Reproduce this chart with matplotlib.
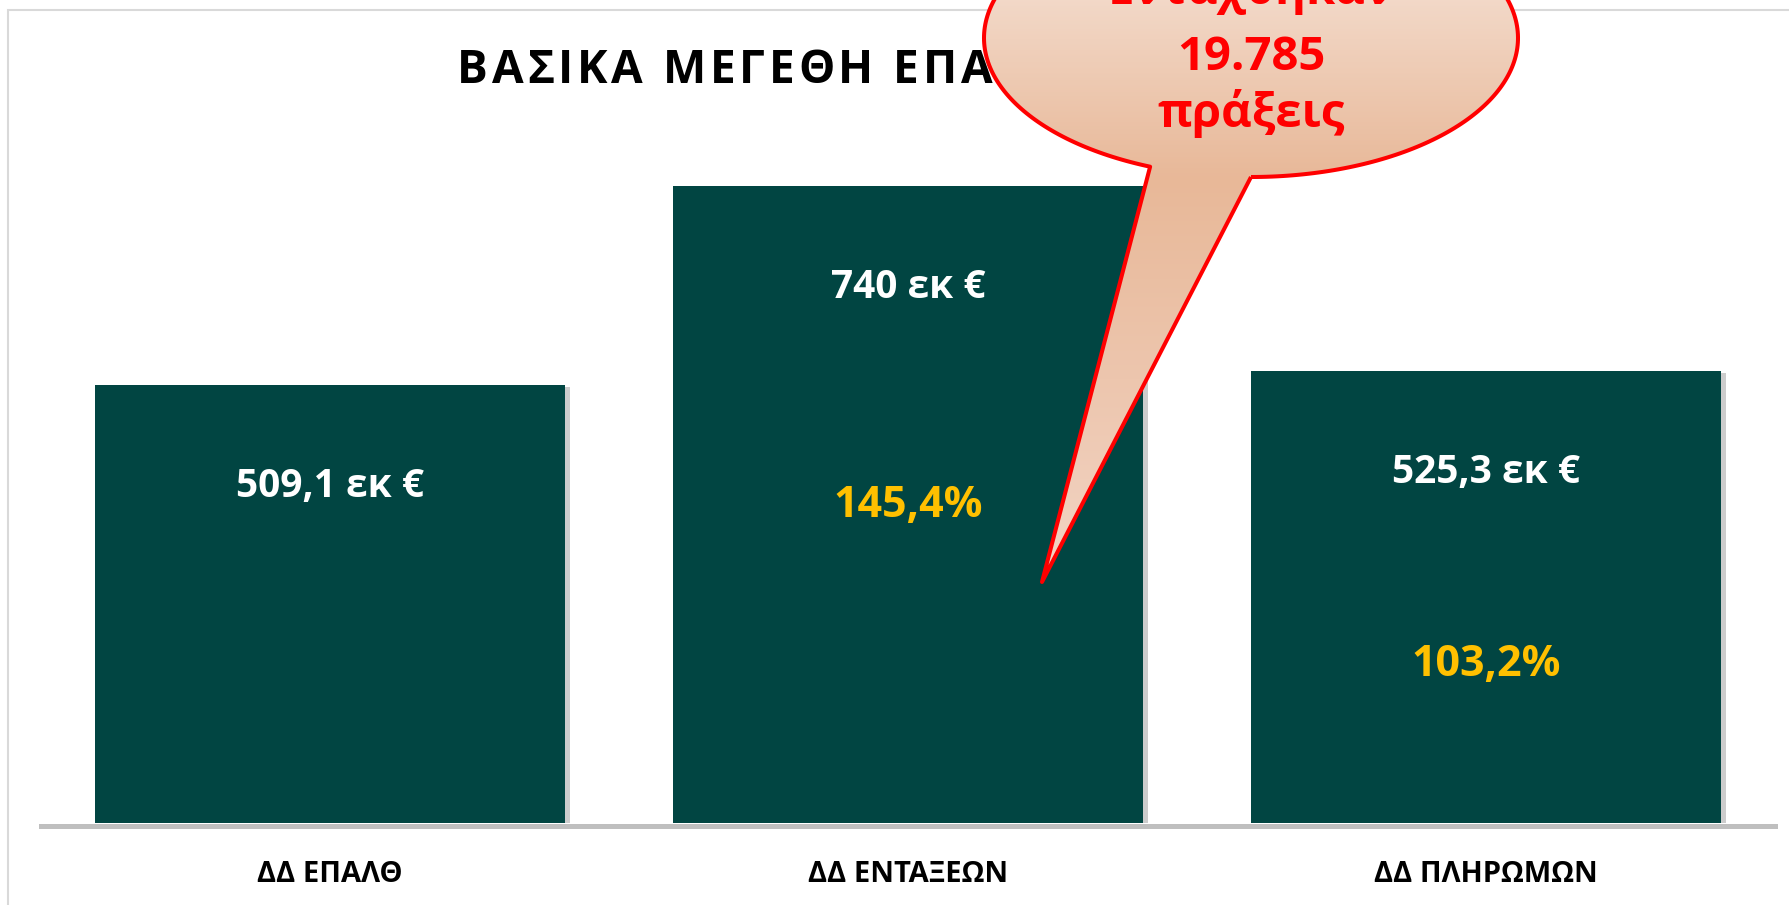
import numpy as np
import matplotlib
matplotlib.use('Agg')
import matplotlib.pyplot as plt
import matplotlib.patheffects as pe
import matplotlib.transforms as mtransforms
from matplotlib.path import Path
from matplotlib.patches import PathPatch, Rectangle
from matplotlib.colors import LinearSegmentedColormap

plt.rcParams['font.family'] = ['Open Sans', 'DejaVu Sans']

# data
categories = ['ΔΔ ΕΠΑΛΘ', 'ΔΔ ΕΝΤΑΞΕΩΝ', 'ΔΔ ΠΛΗΡΩΜΩΝ']
values = [509.1, 740, 525.3]
value_labels = ['509,1 εκ €', '740 εκ €', '525,3 εκ €']
pct_labels = ['', '145,4%', '103,2%']
pct_ypos = [0, 355, 171]
title = 'ΒΑΣΙΚΑ ΜΕΓΕΘΗ ΕΠΑΛΘ'
callout_lines = ['Εντάχθηκαν', '19.785', 'πράξεις']

bar_color = '#014542'
gold = '#FFC000'

W, H = 1789, 905
fig = plt.figure(figsize=(W / 100, H / 100), dpi=100)

# main axes: bottom at y=823px, top at y=11px
ax = fig.add_axes([41 / W, (H - 823) / H, (1775 - 41) / W, (823 - 11) / H])
x = np.arange(len(categories))
bars = ax.bar(x, values, width=0.812, color=bar_color, zorder=3)
for b in bars:
    b.set_path_effects([pe.withSimplePatchShadow(offset=(4, -2), shadow_rgbFace='#808080', alpha=0.4),
                        pe.Normal()])
ax.set_xlim(-0.5, 2.5)
ax.set_ylim(0, 943)
ax.set_yticks([])
ax.set_xticks([])
for s in ['top', 'left', 'right']:
    ax.spines[s].set_visible(False)
ax.spines['bottom'].set_color('#BFBFBF')
ax.spines['bottom'].set_linewidth(3.6)
ax.spines['bottom'].set_position(('outward', 1.8))
ax.patch.set_alpha(0)

# overlay axes in image pixel coordinates (y down)
ov = fig.add_axes([0, 0, 1, 1], zorder=5)
ov.set_xlim(0, W)
ov.set_ylim(H, 0)
ov.axis('off')
ov.patch.set_alpha(0)

# chart frame
fig.patches.append(Rectangle((8 / W, -0.05), 1.1, (H - 10) / H + 0.05, transform=fig.transFigure,
                             fill=False, edgecolor='#D9D9D9', lw=1.5, zorder=0))

# labels
blend = mtransforms.blended_transform_factory(ax.transData, ov.transData)
for i, lab in enumerate(categories):
    ax.text(i, 882, lab, transform=blend, ha='center', va='baseline',
            fontsize=21, fontweight='bold', color='black')
for i, (v, lab) in enumerate(zip(values, value_labels)):
    ax.annotate(lab, xy=(i, v), xytext=(0, -81), textcoords='offset points',
                ha='center', va='baseline', fontsize=28, fontweight='bold', color='white', zorder=4)
for i, lab in enumerate(pct_labels):
    if lab:
        ax.text(i, pct_ypos[i], lab, ha='center', va='baseline', fontsize=31,
                fontweight='bold', color=gold, zorder=4)

# title with letter spacing
renderer = fig.canvas.get_renderer()
tx = 457
for ch in title:
    t = ov.text(tx, 83, ch, ha='left', va='baseline', fontsize=33, fontweight='bold',
                color='black', zorder=1)
    w = t.get_window_extent(renderer).width if ch != ' ' else 12
    tx += w + 3.8

# callout (oval with tail)
cx, cy, rx, ry = 1251, 38, 267, 139
tip = (1042, 582)
t0 = np.deg2rad(-90)
t1 = np.deg2rad(247.8)
ts = np.linspace(t0, t1, 300)
pts = [(cx + rx * np.cos(a), cy - ry * np.sin(a)) for a in ts]
pts.append(tip)
pts.append(pts[0])
codes = [Path.MOVETO] + [Path.LINETO] * (len(pts) - 2) + [Path.CLOSEPOLY]
path = Path(pts, codes)
outline = PathPatch(path, facecolor='none', edgecolor='#FF0000', lw=2.9, zorder=7,
                    joinstyle='round')
ov.add_patch(outline)
clip = PathPatch(path, facecolor='none', edgecolor='none', transform=ov.transData)
ov.add_patch(clip)
cmap = LinearSegmentedColormap.from_list('peach', [(0, '#F8EAE2'), (0.41, '#E8B898'),
                                                   (1.0, '#F2D4C4')])
grad = np.linspace(0, 1, 400).reshape(-1, 1)
im = ov.imshow(grad, cmap=cmap, aspect='auto', extent=(cx - rx, cx + rx, 582, -101),
               origin='upper', zorder=6, interpolation='bilinear')
im.set_clip_path(clip)
ov.set_xlim(0, W)
ov.set_ylim(H, 0)

for txt, yb in zip(callout_lines, [4, 70, 127]):
    ov.text(cx, yb, txt, ha='center', va='baseline', fontsize=34, fontweight='bold',
            color='#FF0000', zorder=8)

fig.savefig('out.png', dpi=100)
